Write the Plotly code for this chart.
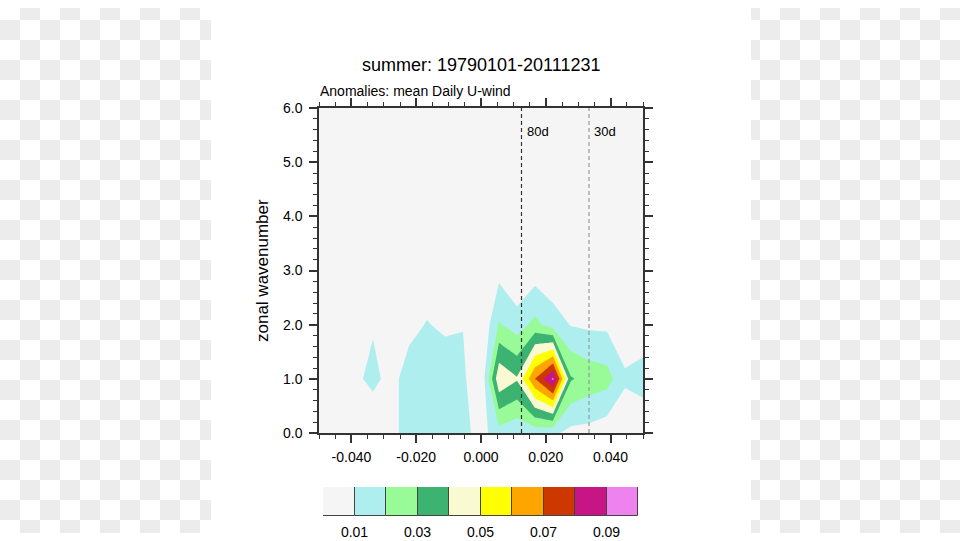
import plotly.graph_objects as go

# frequency grid (cycles per day, 180-day segments) and zonal wavenumbers
freq = [n / 180 for n in range(-9, 10)]
wavenumber = [0, 1, 2, 3, 4, 5, 6]

# spectral power for each wavenumber row (one value per frequency)
power_k0 = [0.003, 0.003, 0.004, 0.0021, 0.0069, 0.014, 0.015, 0.015, 0.013, 0.0062,
            0.016, 0.012, 0.014, 0.012, 0.007, 0.0065, 0.0037, 0.0002, 0.0044]
power_k1 = [0.003, 0.004, 0.008, 0.0125, 0.0069, 0.014, 0.016, 0.016, 0.012, 0.001,
            0.048, 0.041, 0.070, 0.092, 0.031, 0.026, 0.024, 0.012, 0.013]
power_k2 = [0.004, 0.004, 0.005, 0.0091, 0.006, 0.0074, 0.0105, 0.0083, 0.0097, 0.0,
            0.021, 0.015, 0.023, 0.015, 0.0095, 0.0082, 0.008, 0.002, 0.0055]
power_k3 = [0.003, 0.003, 0.003, 0.004, 0.003, 0.0035, 0.0049, 0.003, 0.004, 0.002,
            0.0067, 0.0, 0.0049, 0.0025, 0.003, 0.003, 0.003, 0.002, 0.002]
power_k4 = [0.002, 0.002, 0.003, 0.003, 0.002, 0.003, 0.003, 0.002, 0.003, 0.002,
            0.004, 0.002, 0.003, 0.002, 0.002, 0.002, 0.002, 0.002, 0.001]
power_k5 = [0.002, 0.002, 0.002, 0.002, 0.002, 0.002, 0.002, 0.002, 0.002, 0.001,
            0.003, 0.002, 0.002, 0.002, 0.001, 0.002, 0.001, 0.001, 0.001]
power_k6 = [0.001, 0.002, 0.001, 0.002, 0.001, 0.001, 0.002, 0.001, 0.001, 0.001,
            0.002, 0.001, 0.002, 0.001, 0.001, 0.001, 0.001, 0.001, 0.001]
power = [power_k0, power_k1, power_k2, power_k3, power_k4, power_k5, power_k6]

levels = [0.01, 0.02, 0.03, 0.04, 0.05, 0.06, 0.07, 0.08, 0.09]
level_colors = ["#F5F5F5", "#AFEEEE", "#98FB98", "#3CB371", "#FAFAD2",
                "#FFFF00", "#FFA500", "#CD3700", "#C71585", "#EE82EE"]
cbar_labels = ["0.01", "0.03", "0.05", "0.07", "0.09"]

periods = [80, 30]
period_labels = ["80d", "30d"]
period_colors = ["#333333", "#999999"]

x_ticks = [-0.04, -0.02, 0.0, 0.02, 0.04]
x_ticklabels = ["-0.040", "-0.020", "0.000", "0.020", "0.040"]
y_ticks = [0, 1, 2, 3, 4, 5, 6]
y_ticklabels = ["0.0", "1.0", "2.0", "3.0", "4.0", "5.0", "6.0"]

W, H = 960, 541
# the photographed page shows the figure in rows 8..533, so map target rows onto that band
TOP, SPAN = 8, 525
FONT = "Liberation Sans, Arial, Helvetica, sans-serif"


def px_x(p):
    return p / W


def px_y(p):
    return min(max(1 - (p - TOP) / SPAN, 0), 1)


fig = go.Figure()

fig.add_trace(go.Contour(
    x=freq, y=wavenumber, z=power,
    contours=dict(start=levels[0], end=levels[-1], size=0.01,
                  coloring="fill", showlines=False),
    colorscale=[[j / (len(level_colors) - 1), c] for j, c in enumerate(level_colors)],
    line=dict(width=0, smoothing=0),
    showscale=False,
    hoverinfo="skip",
))

# label bar drawn as a row of boxes
fig.add_trace(go.Bar(
    x=list(range(len(level_colors))), y=[1] * len(level_colors),
    marker=dict(color=level_colors, line=dict(color="#444444", width=1)),
    width=1, xaxis="x2", yaxis="y2", showlegend=False, hoverinfo="skip",
))

shapes = []
# transparent-looking checkerboard beside the white page
for i in range(W // 20 + 1):
    for j in range(H // 20 + 1):
        if (i + j) % 2 == 0:
            continue
        x0, x1 = i * 20, (i + 1) * 20
        if x0 >= 211 and x1 <= 751:
            continue
        if x0 < 211 < x1:
            x1 = 211
        if x0 < 751 < x1:
            x0 = 751
        y0, y1 = px_y((j + 1) * 20), px_y(j * 20)
        if y1 <= y0:
            continue
        shapes.append(dict(type="rect", xref="paper", yref="paper",
                           x0=px_x(x0), x1=px_x(min(x1, W)), y0=y0, y1=y1,
                           fillcolor="#ececec", line=dict(width=0), layer="below"))

for p, c in zip(periods, period_colors):
    shapes.append(dict(type="line", xref="x", yref="y domain", x0=1 / p, x1=1 / p,
                       y0=0, y1=1, line=dict(color=c, width=1.2, dash="4px,3px")))

annotations = [
    dict(text="summer: 19790101-20111231", x=px_x(481), y=px_y(65),
         font=dict(size=18, color="black", family=FONT)),
    dict(text="Anomalies: mean Daily U-wind", x=px_x(318), y=px_y(91), xanchor="left",
         font=dict(size=14, color="black", family=FONT)),
    dict(text="zonal wavenumber", x=px_x(262), y=px_y(271), textangle=-90,
         font=dict(size=17, color="black", family=FONT)),
]
for a in annotations:
    a.update(xref="paper", yref="paper", showarrow=False, yanchor="middle")
    a.setdefault("xanchor", "center")
for p, lab in zip(periods, period_labels):
    annotations.append(dict(text=lab, x=1 / p, y=px_y(131), xref="x", yref="paper",
                            xanchor="left", yanchor="middle", xshift=3, showarrow=False,
                            font=dict(size=13, color="black", family=FONT)))

axis_common = dict(showline=True, linecolor="#333333", linewidth=1.5, mirror="ticks",
                   ticks="outside", ticklen=8, tickwidth=1.5, tickcolor="#333333",
                   showgrid=False, zeroline=False,
                   tickfont=dict(size=14, color="black", family=FONT))

fig.update_layout(
    width=W, height=H, autosize=False,
    margin=dict(l=0, r=0, t=0, b=0, pad=0),
    paper_bgcolor="white", plot_bgcolor="#F5F5F5",
    showlegend=False, bargap=0,
    shapes=shapes, annotations=annotations,
    xaxis=dict(domain=[px_x(319), px_x(643)], range=[freq[0], freq[-1]],
               tickvals=x_ticks, ticktext=x_ticklabels, ticklabelstandoff=2,
               minor=dict(dtick=0.005, tick0=0, ticks="outside", ticklen=4,
                          tickwidth=1.2, tickcolor="#333333"),
               **axis_common),
    yaxis=dict(domain=[px_y(433), px_y(108)], range=[0, 6],
               tickvals=y_ticks, ticktext=y_ticklabels, ticklabelstandoff=4,
               minor=dict(dtick=0.2, tick0=0, ticks="outside", ticklen=4,
                          tickwidth=1.2, tickcolor="#333333"),
               **axis_common),
    xaxis2=dict(domain=[px_x(323), px_x(638)], range=[-0.5, len(level_colors) - 0.5],
                anchor="y2", tickvals=[0.5, 2.5, 4.5, 6.5, 8.5], ticktext=cbar_labels,
                ticks="", showline=False, showgrid=False, zeroline=False,
                ticklabelstandoff=6, tickfont=dict(size=14, color="black", family=FONT)),
    yaxis2=dict(domain=[px_y(516), px_y(487)], range=[0, 1], anchor="x2",
                visible=False),
)

# pin the figure to the window corner so page margins do not shift it
page_fix = ("document.body.style.margin='0';"
            "document.documentElement.style.overflow='hidden';"
            "var gd = document.getElementById('{plot_id}');"
            "gd.style.position='fixed'; gd.style.left='0px'; gd.style.top='0px';")

fig.write_html("out.html", config={"responsive": False, "displayModeBar": False},
               post_script=page_fix)
